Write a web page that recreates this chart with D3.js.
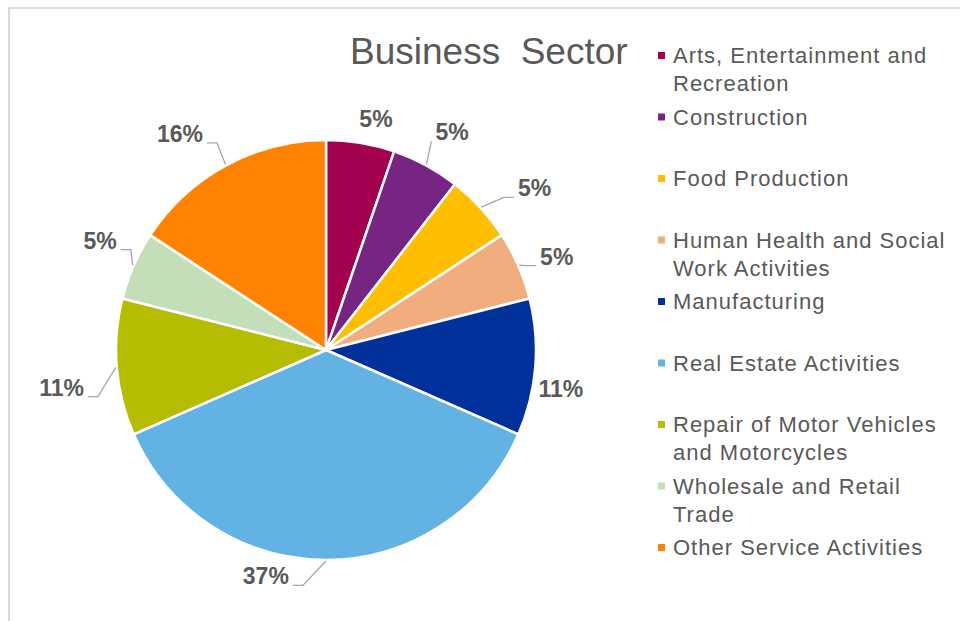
<!DOCTYPE html>
<meta charset="utf-8">
<head>
    <script src="https://d3js.org/d3.v7.min.js"></script>
    <style>
        body { margin: 0; background: #fff; font-family: "Liberation Sans", Arial, sans-serif; }
        svg { display: block; }
    </style>
</head>
<body>
    <svg></svg>
    <script>

    // Data: companies per business sector (shown as percent of total)
    var sectors = ["Arts, Entertainment and Recreation", "Construction", "Food Production",
        "Human Health and Social Work Activities", "Manufacturing", "Real Estate Activities",
        "Repair of Motor Vehicles and Motorcycles", "Wholesale and Retail Trade", "Other Service Activities"];
    var counts = [1, 1, 1, 1, 2, 7, 2, 1, 3];
    var colors = ["#a3004f", "#772583", "#ffbf00", "#f2ad7e", "#00309a", "#62b2e3", "#b4bd00", "#c4deba", "#ff8200"];

    // label placement tweaks: [angle shift in degrees, distance from centre], and whether a leader line is drawn
    var labelNudge = [[2.7, 237], [1.6, 252], [4.8, 264], [1.6, 249], [4.7, 238], [14.9, 234], [-3.3, 267], [2.2, 251], [-5.6, 261]];
    var hasLeader = [false, true, true, true, false, true, true, true, true];

    var width = 960, height = 621;
    var cx = 326, cy = 350, radius = 210;

    var svg = d3.select('svg')
        .attr('width', width)
        .attr('height', height);

    // chart frame
    svg.append('path')
        .attr('d', 'M9,' + height + 'V8H' + width)
        .attr('fill', 'none')
        .attr('stroke', '#dadada')
        .attr('stroke-width', 2);

    svg.append('text')
        .attr('x', 350)
        .attr('y', 64)
        .attr('fill', '#595959')
        .style('font-size', '37px')
        .style('white-space', 'pre')
        .text('Business  Sector');

    var total = d3.sum(counts);
    var pie = d3.pie().sort(null).value(function (d) { return d; });
    var arcs = pie(counts);
    var arc = d3.arc().innerRadius(0).outerRadius(radius);

    var g = svg.append('g')
        .attr('transform', 'translate(' + cx + ',' + cy + ')');

    g.selectAll('path.slice')
        .data(arcs)
        .enter().append('path')
        .attr('class', 'slice')
        .attr('d', arc)
        .attr('fill', function (d, i) { return colors[i]; })
        .attr('stroke', '#fff')
        .attr('stroke-width', 2.5)
        .attr('stroke-linejoin', 'round');

    function midAngle(d) { return (d.startAngle + d.endAngle) / 2; }
    function polar(a, r) { return [r * Math.sin(a), -r * Math.cos(a)]; }

    var labels = g.selectAll('text.pct')
        .data(arcs)
        .enter().append('text')
        .attr('class', 'pct')
        .attr('text-anchor', 'middle')
        .attr('dy', '0.36em')
        .attr('fill', '#595959')
        .style('font-size', '23px')
        .style('font-weight', 'bold')
        .attr('transform', function (d, i) {
            var a = midAngle(d) + labelNudge[i][0] * Math.PI / 180;
            return 'translate(' + polar(a, labelNudge[i][1]) + ')';
        })
        .text(function (d) { return Math.round(d.value / total * 100) + '%'; });

    // leader lines from the slice edge to the label
    labels.each(function (d, i) {
        if (!hasLeader[i]) return;
        var a = midAngle(d);
        var p0 = polar(a, radius + 1);
        var a2 = a + labelNudge[i][0] * Math.PI / 180;
        var c = polar(a2, labelNudge[i][1]);
        var b = this.getBBox();
        var right = c[0] > 0;
        var end = [right ? c[0] + b.x - 4 : c[0] + b.x + b.width + 4, c[1] + b.y + b.height - 4];
        var elbow = [end[0] + (right ? -10 : 10), end[1]];
        var pts = [p0];
        if ((right && elbow[0] > p0[0]) || (!right && elbow[0] < p0[0])) pts.push(elbow);
        pts.push(end);
        g.append('polyline')
            .attr('points', pts.map(function (p) { return p.join(','); }).join(' '))
            .attr('fill', 'none')
            .attr('stroke', '#a6a6a6')
            .attr('stroke-width', 1.3);
    });

    // legend
    var ly = d3.scalePoint().domain(sectors).range([63, 555]);
    var legend = svg.append('g').attr('class', 'legend');

    var items = legend.selectAll('g')
        .data(sectors)
        .enter().append('g')
        .attr('transform', function (d) { return 'translate(658,' + ly(d) + ')'; });

    items.append('rect')
        .attr('x', 0)
        .attr('y', -11)
        .attr('width', 7)
        .attr('height', 7)
        .attr('fill', function (d, i) { return colors[i]; });

    items.append('text')
        .attr('x', 15)
        .attr('fill', '#595959')
        .style('font-size', '22px')
        .style('letter-spacing', '1px')
        .each(function (d) {
            var t = d3.select(this);
            var words = d.split(' ');
            var line = [];
            var lineNo = 0;
            var span = t.append('tspan').attr('x', 15).attr('y', 0);
            words.forEach(function (w) {
                line.push(w);
                span.text(line.join(' '));
                if (span.node().getComputedTextLength() > 288 && line.length > 1) {
                    line.pop();
                    span.text(line.join(' '));
                    line = [w];
                    lineNo++;
                    span = t.append('tspan').attr('x', 15).attr('y', lineNo * 28).text(w);
                }
            });
        });

    </script>
</body>
</html>
